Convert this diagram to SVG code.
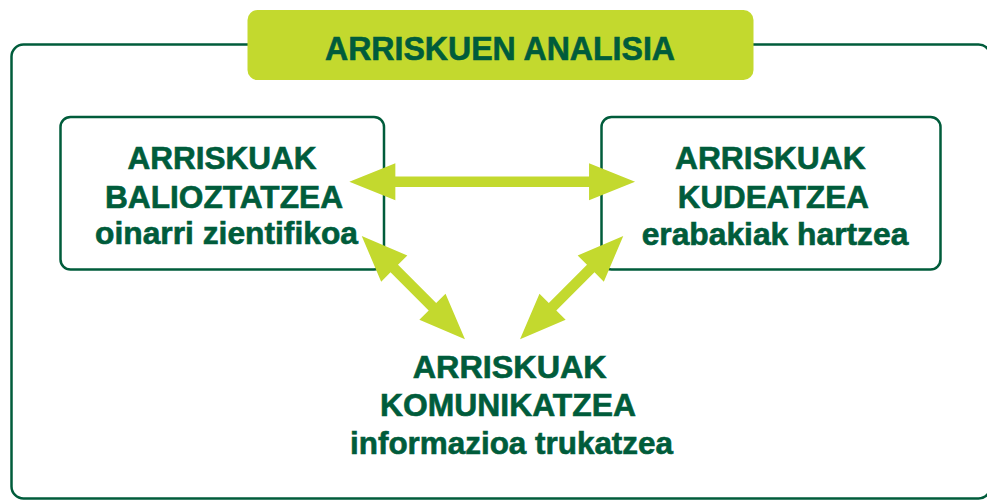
<svg xmlns="http://www.w3.org/2000/svg" width="987" height="500" viewBox="0 0 987 500">
  <style>
    .frame { fill: #ffffff; stroke: #005c3b; stroke-width: 2.5; }
    .box { fill: #ffffff; stroke: #005c3b; stroke-width: 2.5; }
    .title { fill: #c3d92e; }
    .t { font-family: "Liberation Sans", Arial, sans-serif; font-weight: bold; fill: #005c3b; stroke: #005c3b; stroke-width: 0.6; text-anchor: middle; }
    .lbl { font-size: 30.5px; }
    .ttl { font-size: 32.5px; }
    .arrow { fill: #c3d92e; }
  </style>
  <rect class="frame" x="11.5" y="44.5" width="979" height="454" rx="12"/>
  <g id="title">
    <rect class="title" x="247.5" y="10" width="506" height="70" rx="10"/>
    <text class="t ttl" x="500" y="59.5" textLength="350" lengthAdjust="spacingAndGlyphs">ARRISKUEN ANALISIA</text>
  </g>
  <g id="node-balioztatzea">
    <rect class="box" x="60.5" y="117" width="323.5" height="152.5" rx="10"/>
    <text class="t lbl" x="222" y="169" textLength="189" lengthAdjust="spacingAndGlyphs">ARRISKUAK</text>
    <text class="t lbl" x="224" y="207.5" textLength="238" lengthAdjust="spacingAndGlyphs">BALIOZTATZEA</text>
    <text class="t lbl" x="226.5" y="244" textLength="263" lengthAdjust="spacingAndGlyphs">oinarri zientifikoa</text>
  </g>
  <g id="node-kudeatzea">
    <rect class="box" x="601.5" y="117" width="339" height="152.5" rx="10"/>
    <text class="t lbl" x="770.3" y="169" textLength="190.7" lengthAdjust="spacingAndGlyphs">ARRISKUAK</text>
    <text class="t lbl" x="773.3" y="207.5" textLength="191" lengthAdjust="spacingAndGlyphs">KUDEATZEA</text>
    <text class="t lbl" x="775" y="245" textLength="266.7" lengthAdjust="spacingAndGlyphs">erabakiak hartzea</text>
  </g>
  <g id="node-komunikatzea">
    <text class="t lbl" x="509.7" y="378" textLength="194" lengthAdjust="spacingAndGlyphs">ARRISKUAK</text>
    <text class="t lbl" x="508" y="416" textLength="256" lengthAdjust="spacingAndGlyphs">KOMUNIKATZEA</text>
    <text class="t lbl" x="511.5" y="454" textLength="323" lengthAdjust="spacingAndGlyphs">informazioa trukatzea</text>
  </g>
  <g id="connectors">
    <path class="arrow" transform="translate(492.2,181.7)" d="M-142.85,0 L-96.85,-18.5 L-96.85,-5.3 L96.85,-5.3 L96.85,-18.5 L142.85,0 L96.85,18.5 L96.85,5.3 L-96.85,5.3 L-96.85,18.5 Z"/>
    <path class="arrow" transform="translate(413.35,287.65) rotate(45)" d="M-73,0 L-27,-18.5 L-27,-5.3 L27,-5.3 L27,-18.5 L73,0 L27,18.5 L27,5.3 L-27,5.3 L-27,18.5 Z"/>
    <path class="arrow" transform="translate(571.65,287.65) rotate(-45)" d="M-73,0 L-27,-18.5 L-27,-5.3 L27,-5.3 L27,-18.5 L73,0 L27,18.5 L27,5.3 L-27,5.3 L-27,18.5 Z"/>
  </g>
</svg>
